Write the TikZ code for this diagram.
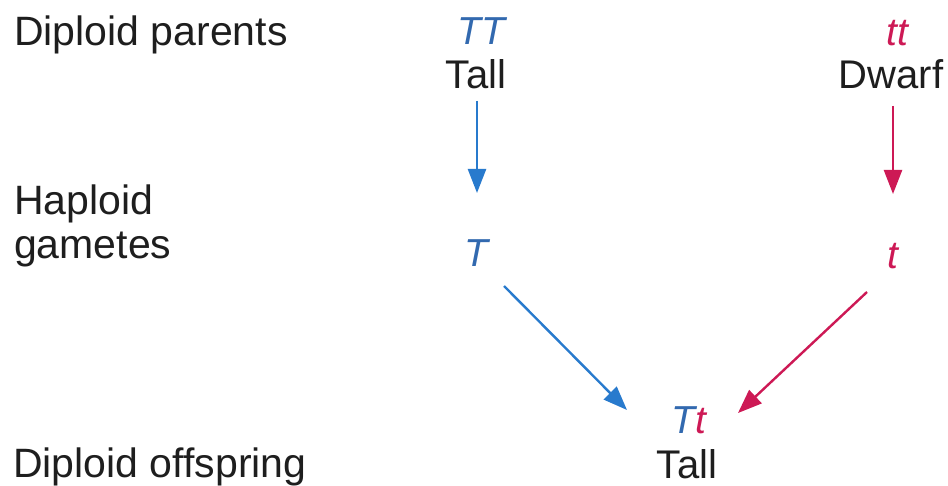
\documentclass[tikz,border=0pt]{standalone}
\usepackage{fontspec}
\setmainfont{Liberation Sans}
\usetikzlibrary{arrows.meta}
\definecolor{gblue}{RGB}{40,122,205}
\definecolor{gtblue}{RGB}{50,105,175}
\definecolor{gred}{RGB}{205,25,85}
\definecolor{ink}{RGB}{30,30,30}
\tikzset{
  lbl/.style={inner sep=0pt, anchor=base west, text=ink, font=\fontsize{41}{41}\selectfont},
  txt/.style={inner sep=0pt, anchor=base, text=ink, font=\fontsize{40}{40}\selectfont},
  gen/.style={inner sep=0pt, anchor=base, font=\fontsize{39}{39}\selectfont\itshape},
  barrow/.style={draw=gblue, line width=2.4pt, -{Triangle[length=24pt,width=18pt]}},
  rarrow/.style={draw=gred, line width=2.4pt, -{Triangle[length=24pt,width=18pt]}}
}
\begin{document}
\begin{tikzpicture}[x=1pt,y=-1pt]
\useasboundingbox[fill=white] (0,0) rectangle (948,486);
% left labels
\node[lbl] (lpar) at (14,46) {Diploid parents};
\node[lbl] (lhap) at (14,215) {Haploid};
\node[lbl] (lgam) at (14,259) {gametes};
\node[lbl] (loff) at (13,477) {Diploid offspring};
% parents
\node[gen, text=gtblue] (TT) at (481,45) {TT};
\node[txt] (tallP) at (476,89) {Tall};
\node[gen, text=gred] (tt) at (897,46) {tt};
\node[txt] (dwarf) at (891,89) {Dwarf};
% gametes
\node[gen, text=gtblue] (gT) at (476,267) {T};
\node[gen, text=gred] (gt) at (893,269) {t};
% offspring
\node[gen] (Tt) at (689,433) {\textcolor{gtblue}{T}\textcolor{gred}{t}};
\node[txt] (tallO) at (687,478) {Tall};
% arrows
\draw[barrow] ([shift={(1,12)}]tallP.base) -- ([shift={(1,-74)}]gT.base);
\draw[rarrow] ([shift={(2,17)}]dwarf.base) -- ([shift={(0,-75)}]gt.base);
\draw[barrow] ([shift={(28,19)}]gT.base) -- ([shift={(-62,-23)}]Tt.base);
\draw[rarrow] ([shift={(-26,23)}]gt.base) -- ([shift={(49,-20)}]Tt.base);
\end{tikzpicture}
\end{document}
